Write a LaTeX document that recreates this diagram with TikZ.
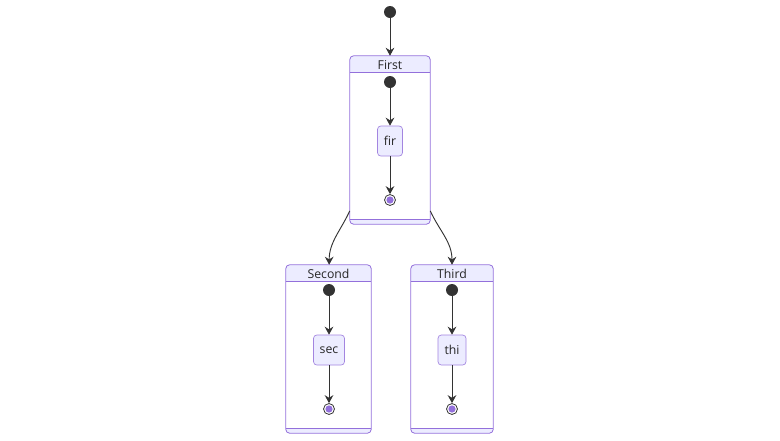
\documentclass[tikz,border=0pt]{standalone}
\usepackage{fontspec}
\setmainfont{Open Sans}
\usetikzlibrary{arrows.meta}
\definecolor{clusc}{HTML}{9370DB}
\definecolor{statec}{HTML}{ECECFF}
\definecolor{linec}{HTML}{333333}

\begin{document}
\begin{tikzpicture}[x=0.75pt,y=-0.75pt,font=\fontsize{9.2}{11}\selectfont,text=black!85,
  cluster/.style={fill=white,inner sep=0pt,minimum height=126pt},
  clusline/.style={draw=clusc,line width=0.6pt},
  statebox/.style={draw=clusc!85,fill=statec,line width=0.5pt,rounded corners=2.5pt,minimum height=22.5pt,inner sep=1pt},
  initst/.style={circle,fill=linec,inner sep=0pt,minimum size=9pt},
  finalst/.style={circle,draw=linec,fill=white,line width=0.6pt,inner sep=0pt,minimum size=8.2pt,
    path picture={\fill[clusc] (path picture bounding box.center) circle (2.7pt);}},
  trans/.style={draw=linec,line width=0.7pt,-{Stealth[length=6pt,width=6.5pt,inset=2pt]}}]
\useasboundingbox (0,0) rectangle (780,440);
\node[cluster,minimum width=60pt] (first) at (390,140) {};
\begin{scope}
\clip[rounded corners=3pt] (first.south west) rectangle (first.north east);
\fill[statec] (first.north west) rectangle ([yshift=-12.75pt]first.north east);
\fill[statec] (first.south west) rectangle ([yshift=3.75pt]first.south east);
\end{scope}
\draw[clusline] ([yshift=-12.75pt]first.north west) -- ([yshift=-12.75pt]first.north east);
\draw[clusline] ([yshift=3.75pt]first.south west) -- ([yshift=3.75pt]first.south east);
\draw[clusline,rounded corners=3pt] (first.south west) rectangle (first.north east);
\node (firsthead) at ([yshift=-6.8pt]first.north) {First};
\node[cluster,minimum width=63.75pt] (second) at (328.5,349) {};
\begin{scope}
\clip[rounded corners=3pt] (second.south west) rectangle (second.north east);
\fill[statec] (second.north west) rectangle ([yshift=-12.75pt]second.north east);
\fill[statec] (second.south west) rectangle ([yshift=3.75pt]second.south east);
\end{scope}
\draw[clusline] ([yshift=-12.75pt]second.north west) -- ([yshift=-12.75pt]second.north east);
\draw[clusline] ([yshift=3.75pt]second.south west) -- ([yshift=3.75pt]second.south east);
\draw[clusline,rounded corners=3pt] (second.south west) rectangle (second.north east);
\node (secondhead) at ([yshift=-6.8pt]second.north) {Second};
\node[cluster,minimum width=61.5pt] (third) at (452,349) {};
\begin{scope}
\clip[rounded corners=3pt] (third.south west) rectangle (third.north east);
\fill[statec] (third.north west) rectangle ([yshift=-12.75pt]third.north east);
\fill[statec] (third.south west) rectangle ([yshift=3.75pt]third.south east);
\end{scope}
\draw[clusline] ([yshift=-12.75pt]third.north west) -- ([yshift=-12.75pt]third.north east);
\draw[clusline] ([yshift=3.75pt]third.south west) -- ([yshift=3.75pt]third.south east);
\draw[clusline,rounded corners=3pt] (third.south west) rectangle (third.north east);
\node (thirdhead) at ([yshift=-6.8pt]third.north) {Third};
\node[initst] (start) at (390,12) {};
\node[initst] (firstinit) at (390,82) {};
\node[statebox,minimum width=18.75pt] (fir) at (390,141) {fir};
\node[finalst] (firstend) at (390,200) {};
\node[initst] (secondinit) at (329,290) {};
\node[statebox,minimum width=23.25pt] (sec) at (329,350) {sec};
\node[finalst] (secondend) at (329,409) {};
\node[initst] (thirdinit) at (452,290) {};
\node[statebox,minimum width=21pt] (thi) at (452,350) {thi};
\node[finalst] (thirdend) at (452,409) {};
\draw[trans] (start) -- (first);
\draw[trans] (firstinit) -- (fir);
\draw[trans] (fir) -- (firstend);
\draw[trans] (secondinit) -- (sec);
\draw[trans] (sec) -- (secondend);
\draw[trans] (thirdinit) -- (thi);
\draw[trans] (thi) -- (thirdend);
\draw[trans] ([yshift=10pt]first.south west) to[out=-115,in=90] ([xshift=0.5pt]second.north);
\draw[trans] ([yshift=10pt]first.south east) to[out=-65,in=90] (third.north);
\end{tikzpicture}
\end{document}
